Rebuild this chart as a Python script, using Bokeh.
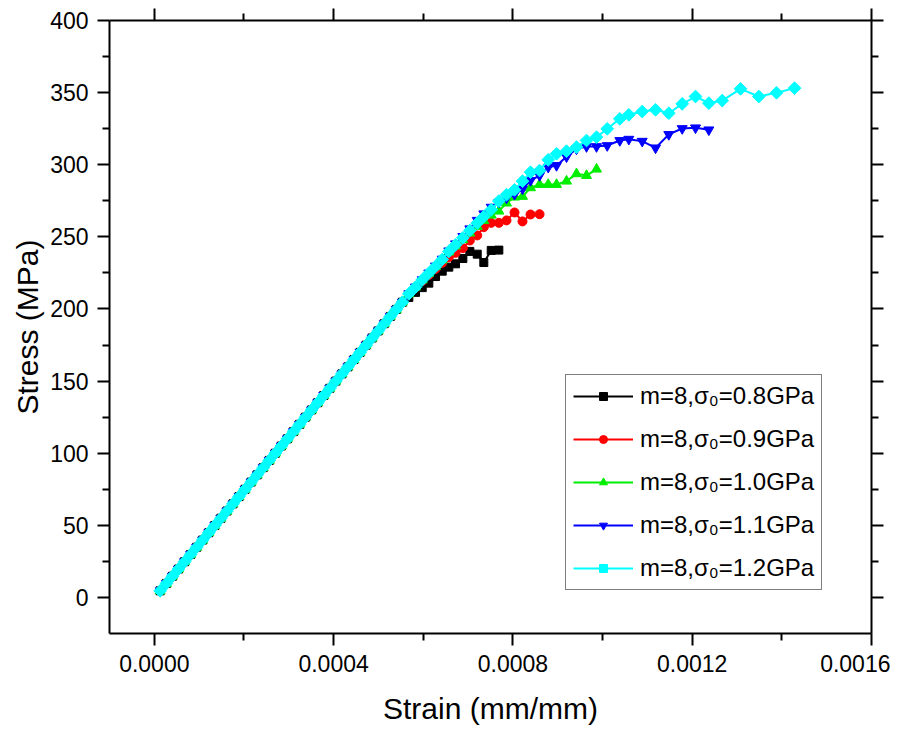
import numpy as np
from bokeh.plotting import figure
from bokeh.models import (Range1d, LinearAxis, FixedTicker, PrintfTickFormatter,
                          CustomJSTickFormatter, Legend, LegendItem)
from bokeh.embed import file_html
from bokeh.resources import INLINE

FONT = "Liberation Sans"

# ---- shared elastic part (all five curves overlap here) ----
strain_elastic = [0.0000130, 0.0000270, 0.0000405, 0.0000540, 0.0000675, 0.0000810, 0.0000945,
                  0.0001080, 0.0001215, 0.0001350, 0.0001485, 0.0001620, 0.0001755, 0.0001890,
                  0.0002025, 0.0002160, 0.0002295, 0.0002430, 0.0002565, 0.0002700, 0.0002835,
                  0.0002970, 0.0003105, 0.0003240, 0.0003375, 0.0003510, 0.0003645, 0.0003780,
                  0.0003915, 0.0004050, 0.0004185, 0.0004320, 0.0004455, 0.0004590, 0.0004725,
                  0.0004860, 0.0004995, 0.0005130, 0.0005265, 0.0005400, 0.0005535]
stress_elastic = [4.6, 9.7, 14.7, 19.7, 24.8, 29.8, 34.8, 39.8, 44.9, 49.9, 54.9, 59.9, 64.9,
                  69.9, 75.0, 80.0, 85.0, 90.0, 95.0, 100.0, 105.0, 110.0, 115.0, 120.0, 125.0,
                  130.0, 135.0, 140.0, 145.0, 150.0, 155.0, 159.9, 164.9, 169.9, 174.9, 179.9,
                  184.8, 189.8, 194.8, 199.7, 204.7]

# ---- tails of each curve ----
strain_08 = [0.0005678, 0.0005827, 0.0005977, 0.0006124, 0.0006274, 0.0006423, 0.0006570,
             0.0006720, 0.0006883, 0.0007039, 0.0007204, 0.0007351, 0.0007516, 0.0007686]
stress_08 = [208.0, 211.5, 214.8, 217.9, 222.5, 226.2, 229.0, 231.3, 235.0, 239.9, 238.0,
             232.2, 240.6, 240.8]

strain_09 = [0.0005678, 0.0005827, 0.0005977, 0.0006124, 0.0006274, 0.0006423, 0.0006570,
             0.0006720, 0.0006883, 0.0007039, 0.0007204, 0.0007351, 0.0007516, 0.0007686,
             0.0007857, 0.0008036, 0.0008214, 0.0008393, 0.0008594]
stress_09 = [210.3, 214.8, 219.4, 223.6, 227.8, 232.0, 235.9, 238.9, 242.2, 247.5, 251.0,
             256.7, 259.7, 259.7, 261.4, 266.9, 260.7, 265.5, 265.7]

strain_10 = [0.0005678, 0.0005827, 0.0005977, 0.0006124, 0.0006274, 0.0006423, 0.0006570,
             0.0006720, 0.0006883, 0.0007039, 0.0007204, 0.0007351, 0.0007516, 0.0007686,
             0.0007857, 0.0008036, 0.0008214, 0.0008393, 0.0008594, 0.0008788, 0.0008973,
             0.0009196, 0.0009419, 0.0009642, 0.0009865]
stress_10 = [210.5, 215.1, 220.1, 224.7, 229.3, 234.0, 239.4, 243.6, 248.0, 252.6, 257.2,
             261.2, 265.0, 267.8, 273.4, 277.5, 278.0, 284.0, 286.3, 286.3, 286.3, 288.6,
             293.7, 292.5, 296.9]

strain_11 = [0.0005678, 0.0005827, 0.0005977, 0.0006124, 0.0006274, 0.0006423, 0.0006570,
             0.0006720, 0.0006883, 0.0007039, 0.0007204, 0.0007351, 0.0007516, 0.0007686,
             0.0007857, 0.0008036, 0.0008214, 0.0008393, 0.0008594, 0.0008788, 0.0008973,
             0.0009196, 0.0009419, 0.0009642, 0.0009865, 0.0010104, 0.0010385, 0.0010586,
             0.0010885, 0.0011182, 0.0011478, 0.0011777, 0.0012074, 0.0012371]
stress_11 = [210.6, 215.3, 220.3, 225.0, 229.8, 234.6, 240.3, 245.2, 250.3, 255.6, 261.5,
             266.0, 270.6, 274.0, 277.0, 279.5, 283.3, 289.1, 292.5, 298.3, 299.5, 305.5,
             311.0, 312.6, 312.6, 313.3, 316.8, 317.7, 316.3, 311.7, 321.0, 325.1, 325.6,
             324.2]

strain_12 = [0.0005678, 0.0005827, 0.0005977, 0.0006124, 0.0006274, 0.0006423, 0.0006570,
             0.0006720, 0.0006883, 0.0007039, 0.0007204, 0.0007351, 0.0007516, 0.0007686,
             0.0007857, 0.0008036, 0.0008214, 0.0008393, 0.0008594, 0.0008788, 0.0008973,
             0.0009196, 0.0009419, 0.0009642, 0.0009865, 0.0010104, 0.0010385, 0.0010586,
             0.0010885, 0.0011182, 0.0011478, 0.0011777, 0.0012074, 0.0012371, 0.0012670,
             0.0013078, 0.0013486, 0.0013881, 0.0014283]
stress_12 = [210.5, 215.1, 220.2, 224.8, 229.5, 234.3, 239.9, 244.5, 249.3, 254.4, 259.5,
             264.1, 268.8, 274.8, 279.2, 282.6, 288.6, 294.8, 296.0, 303.4, 307.6, 309.4,
             312.2, 316.8, 319.1, 324.9, 331.8, 334.6, 336.9, 338.1, 335.7, 342.2, 347.3,
             342.7, 344.5, 352.6, 347.3, 349.9, 353.1]

labels = ["m=8,σ₀=0.8GPa", "m=8,σ₀=0.9GPa", "m=8,σ₀=1.0GPa", "m=8,σ₀=1.1GPa", "m=8,σ₀=1.2GPa"]
colors = ["#000000", "#ff0000", "#00ee00", "#0000ff", "#00ffff"]
markers = ["square", "circle", "triangle", "inverted_triangle", "square"]
msizes = [8, 9, 10, 10, 9]
angles = [0, 0, 0, 0, np.pi / 4]
tails = [(strain_08, stress_08), (strain_09, stress_09), (strain_10, stress_10),
         (strain_11, stress_11), (strain_12, stress_12)]

x_ticks = [0.0, 0.0004, 0.0008, 0.0012, 0.0016]
x_minor = [0.0002, 0.0006, 0.0010, 0.0014]
y_ticks = [0, 50, 100, 150, 200, 250, 300, 350, 400]
y_minor = [25, 75, 125, 175, 225, 275, 325, 375]

p = figure(width=890, height=728, output_backend="svg", toolbar_location=None,
           x_range=Range1d(-0.0001, 0.0016), y_range=Range1d(-25, 400),
           min_border_left=109, min_border_right=19, min_border_top=20, min_border_bottom=95,
           x_axis_label="Strain (mm/mm)", y_axis_label="Stress (MPa)")
p.grid.visible = False
p.outline_line_color = None
p.background_fill_color = "white"
p.border_fill_color = "white"


def style(ax):
    ax.axis_line_width = 2
    ax.axis_line_color = "black"
    ax.major_tick_line_width = 2
    ax.minor_tick_line_width = 2
    ax.major_tick_line_color = "black"
    ax.minor_tick_line_color = "black"
    ax.major_tick_out = 12
    ax.major_tick_in = 0
    ax.minor_tick_out = 7
    ax.minor_tick_in = 0
    ax.major_label_text_font = FONT
    ax.major_label_text_font_size = "23px"
    ax.major_label_text_color = "black"
    ax.axis_label_text_font = FONT
    ax.axis_label_text_font_size = "30px"
    ax.axis_label_text_font_style = "normal"
    ax.axis_label_text_color = "black"


xt = FixedTicker(ticks=x_ticks, minor_ticks=x_minor)
yt = FixedTicker(ticks=y_ticks, minor_ticks=y_minor)

xa = p.xaxis[0]
xa.ticker = xt
xa.formatter = PrintfTickFormatter(format="%.4f")
style(xa)
xa.major_label_standoff = 9
xa.axis_label_standoff = 17

ya = p.yaxis[0]
ya.ticker = yt
style(ya)
ya.major_label_standoff = 9
ya.axis_label_standoff = 3

top = LinearAxis(ticker=FixedTicker(ticks=x_ticks, minor_ticks=x_minor),
                 formatter=CustomJSTickFormatter(code="return ''"))
style(top)
top.major_label_standoff = 0
p.add_layout(top, "above")

right = LinearAxis(ticker=FixedTicker(ticks=y_ticks, minor_ticks=y_minor),
                   formatter=CustomJSTickFormatter(code="return ''"))
style(right)
right.major_label_standoff = 0
p.add_layout(right, "right")

items = []
for (sx, sy), lab, c, m, ms, ang in zip(tails, labels, colors, markers, msizes, angles):
    xs = strain_elastic + sx
    ys = stress_elastic + sy
    lr = p.line(xs, ys, line_color=c, line_width=2)
    sr = p.scatter(xs, ys, marker=m, size=ms, angle=ang, fill_color=c, line_color=c)
    items.append(LegendItem(label=lab, renderers=[lr, sr]))

legend = Legend(items=items, location=(456, 43), margin=0,
                label_text_font=FONT, label_text_font_size="24px", label_text_color="black",
                glyph_width=60, glyph_height=20, label_height=26, spacing=15, padding=7,
                label_standoff=7, border_line_color="black", border_line_width=1.5,
                background_fill_color="white", background_fill_alpha=1)
p.add_layout(legend)

open("out.html", "w").write(file_html(p, INLINE))
